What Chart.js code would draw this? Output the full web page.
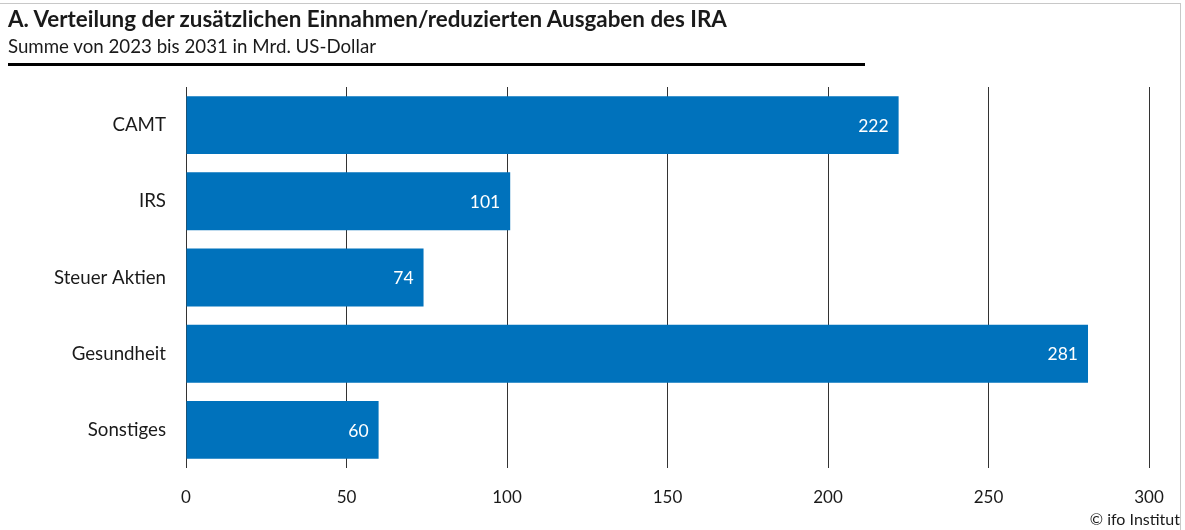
<!DOCTYPE html>
<html>
  <head>
    <title>IRA Verteilung</title>
    <script src="https://cdn.jsdelivr.net/npm/chart.js"></script>
    <style>
      body { margin: 0; background: #fff; font-family: Lato, "Noto Sans", sans-serif; color: #1a1a1a; }
      #wrap { position: relative; width: 1185px; height: 530px; overflow: hidden; }
      #frameTop { position: absolute; left: 0; top: 3px; width: 1181px; height: 1px; background: #c8c8c8; }
      #frameRight { position: absolute; left: 1180px; top: 3px; width: 1px; height: 527px; background: #c8c8c8; }
      #title { position: absolute; left: 8px; top: 5px; font-size: 22.4px; font-weight: bold; white-space: nowrap; }
      #subtitle { position: absolute; left: 8px; top: 35px; font-size: 18.7px; white-space: nowrap; }
      #rule { position: absolute; left: 8px; top: 63px; width: 857px; height: 2.5px; background: #000; }
      #credit { position: absolute; right: 5px; top: 509px; font-size: 16px; white-space: nowrap; }
      #chartBox { position: absolute; left: 0; top: 0; width: 1185px; height: 530px; }
    </style>
  </head>
  <body>
    <div id="wrap">
      <div id="chartBox"><canvas id="barChart"></canvas></div>
      <div id="frameTop"></div>
      <div id="frameRight"></div>
      <div id="title">A. Verteilung der zusätzlichen Einnahmen/reduzierten Ausgaben des IRA</div>
      <div id="subtitle">Summe von 2023 bis 2031 in Mrd. US-Dollar</div>
      <div id="rule"></div>
      <div id="credit">© ifo Institut</div>
    </div>

    <script>
      const categories = ['CAMT', 'IRS', 'Steuer Aktien', 'Gesundheit', 'Sonstiges'];
      const values = [222, 101, 74, 281, 60];
      const xTicks = [0, 50, 100, 150, 200, 250, 300];

      const barColor = '#0072bc';

      // white value labels at the end of each bar
      const valueLabels = {
        id: 'valueLabels',
        afterDatasetsDraw(chart) {
          const ctx = chart.ctx;
          const meta = chart.getDatasetMeta(0);
          ctx.save();
          ctx.fillStyle = '#fff';
          ctx.font = '17.5px Lato, "Noto Sans", sans-serif';
          ctx.textAlign = 'right';
          ctx.textBaseline = 'middle';
          meta.data.forEach((bar, i) => {
            ctx.fillText(values[i], bar.x - 10, bar.y + 1);
          });
          ctx.restore();
        }
      };

      const ctx = document.getElementById('barChart').getContext('2d');
      const chart = new Chart(ctx, {
        type: 'bar',
        data: {
          labels: categories,
          datasets: [{
            data: values,
            backgroundColor: barColor,
            barPercentage: 1,
            categoryPercentage: 0.76
          }]
        },
        options: {
          indexAxis: 'y',
          responsive: true,
          maintainAspectRatio: false,
          animation: false,
          layout: { padding: { top: 87, right: 36, left: 0, bottom: 0 } },
          plugins: { legend: { display: false }, tooltip: { enabled: false } },
          scales: {
            x: {
              min: 0,
              max: 300,
              afterBuildTicks(scale) {
                scale.ticks = xTicks.map(v => ({ value: v }));
              },
              afterFit(scale) { scale.height = 62; },
              grid: { color: '#333', lineWidth: 1, drawTicks: false },
              border: { display: false },
              ticks: {
                padding: 19,
                color: '#1a1a1a',
                font: { family: 'Lato, "Noto Sans", sans-serif', size: 17 }
              }
            },
            y: {
              afterFit(scale) { scale.width = 186; },
              grid: { display: false },
              border: { display: false },
              ticks: {
                padding: 12,
                color: '#1a1a1a',
                font: { family: 'Lato, "Noto Sans", sans-serif', size: 18.7 }
              }
            }
          }
        },
        plugins: [valueLabels]
      });
    </script>
  </body>
</html>
